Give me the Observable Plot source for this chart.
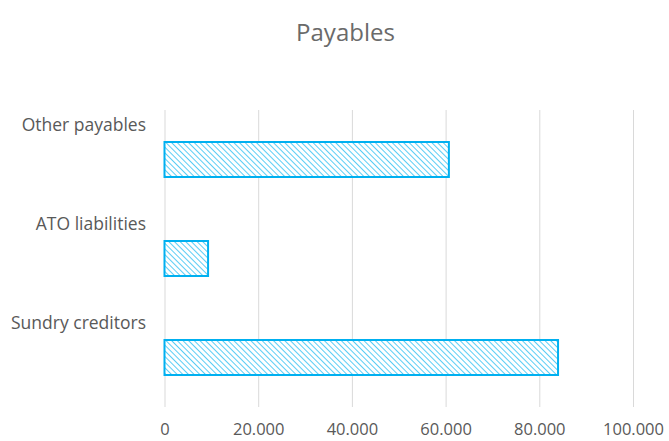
<!DOCTYPE html>
<html>
<head>
<meta charset="utf-8">
<script src="https://cdn.jsdelivr.net/npm/d3@7"></script>
<script src="https://cdn.jsdelivr.net/npm/@observablehq/plot@0.6"></script>
<style>
  html, body { margin: 0; padding: 0; background: #fff; }
  #wrap { width: 669px; height: 441px; position: relative; overflow: hidden; font-family: "Open Sans", "Noto Sans", sans-serif; }
  #title { position: absolute; left: 11px; top: 12px; width: 669px; text-align: center; font-size: 24px; color: #6a6a6a; line-height: 40px; z-index: 1; }
  #chart { position: absolute; left: 0; top: 0; }
</style>
</head>
<body>
<div id="wrap">
  <div id="title">Payables</div>
  <div id="chart"></div>
</div>
<script>
const categories = ["Other payables", "ATO liabilities", "Sundry creditors"];
const values = [60700, 9300, 84000];
const xTicks = [0, 20000, 40000, 60000, 80000, 100000];

const data = categories.map((c, i) => ({category: c, value: values[i]}));
const fmt = d => d3.format(",")(d).replace(/,/g, ".");

const plot = Plot.plot({
  width: 669,
  height: 441,
  marginLeft: 164.5,
  marginRight: 36,
  marginTop: 110,
  marginBottom: 34,
  style: {fontFamily: "'Open Sans', 'Noto Sans', sans-serif", color: "#595959", background: "transparent"},
  x: {domain: [0, 100000], ticks: xTicks},
  y: {domain: categories, paddingInner: 0.646, paddingOuter: 0.323},
  marks: [
    Plot.gridX(xTicks, {stroke: "#d9d9d9", strokeOpacity: 1, strokeWidth: 1}),
    Plot.barX(data, {x: "value", y: "category", fill: "url(#hatch)", stroke: "#00B0F0", strokeWidth: 2}),
    Plot.axisX(xTicks, {tickSize: 0, tickPadding: 16, fontSize: 16.5, tickFormat: fmt, fill: "#595959", label: null}),
    Plot.axisY({tickSize: 0, tickPadding: 19, dy: -35, fontSize: 17.5, fill: "#595959", label: null})
  ]
});

const ns = "http://www.w3.org/2000/svg";
const defs = document.createElementNS(ns, "defs");
const pat = document.createElementNS(ns, "pattern");
pat.setAttribute("id", "hatch");
pat.setAttribute("patternUnits", "userSpaceOnUse");
pat.setAttribute("width", "4");
pat.setAttribute("height", "4");
pat.setAttribute("patternTransform", "rotate(-45)");
const bg = document.createElementNS(ns, "rect");
bg.setAttribute("width", "4"); bg.setAttribute("height", "4"); bg.setAttribute("fill", "#fff");
const ln = document.createElementNS(ns, "line");
ln.setAttribute("x1", "0"); ln.setAttribute("y1", "0"); ln.setAttribute("x2", "0"); ln.setAttribute("y2", "4");
ln.setAttribute("stroke", "#22bdf2"); ln.setAttribute("stroke-width", "1.5");
pat.appendChild(bg); pat.appendChild(ln);
defs.appendChild(pat);
plot.insertBefore(defs, plot.firstChild);

document.getElementById("chart").appendChild(plot);
</script>
</body>
</html>
